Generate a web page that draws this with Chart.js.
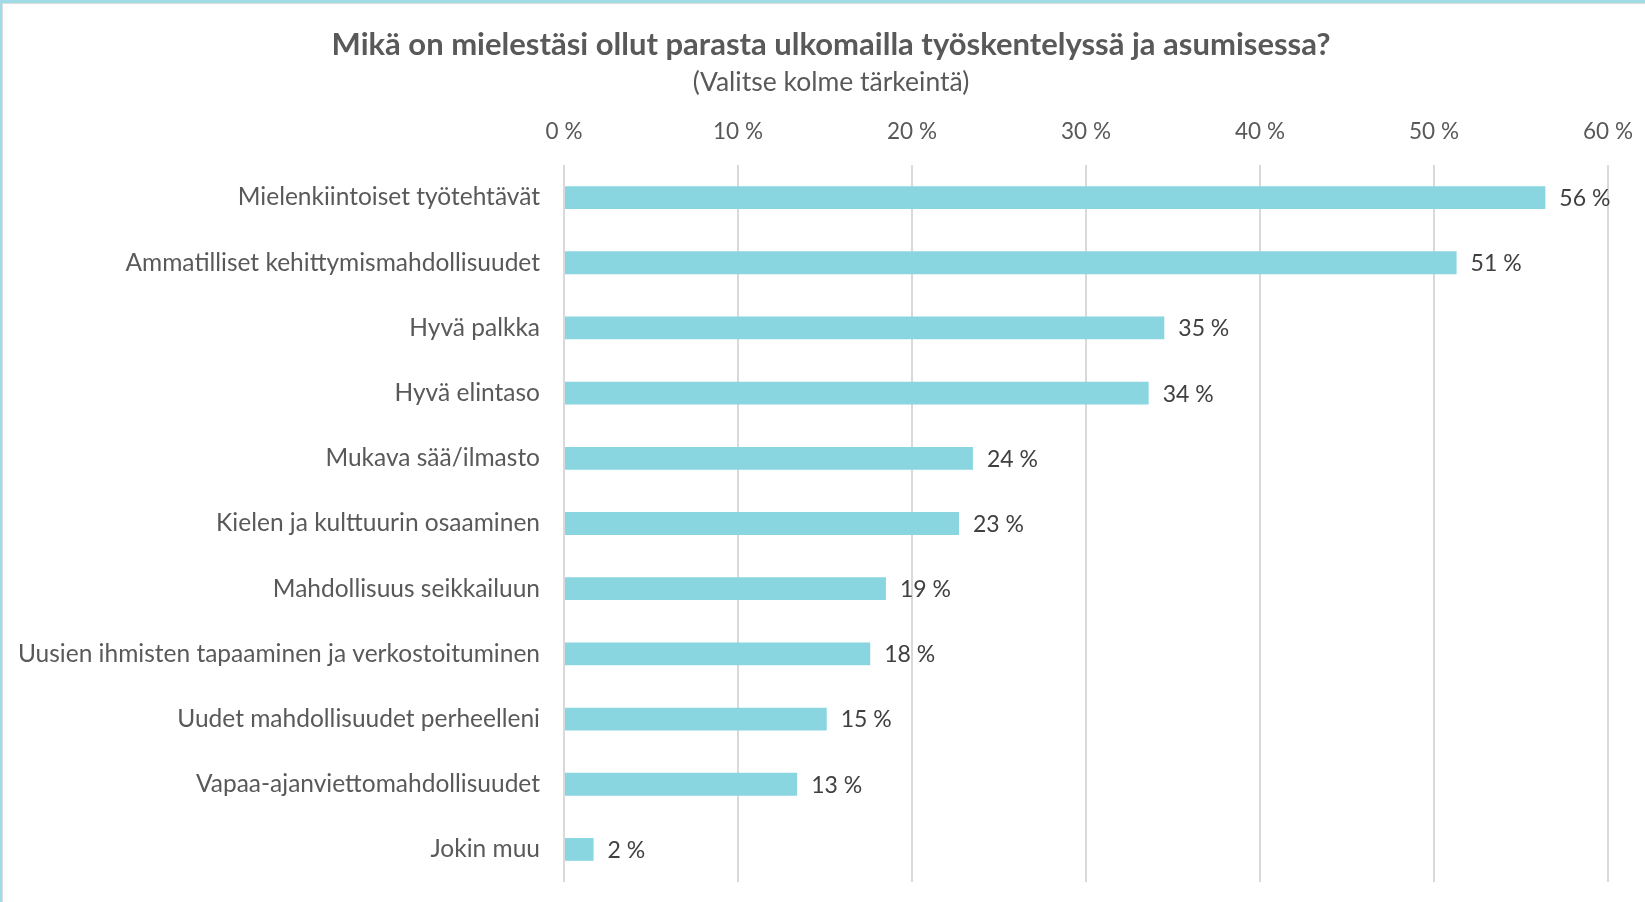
<!DOCTYPE html>
<html>
<head>
<meta charset="utf-8">
<script src="https://cdn.jsdelivr.net/npm/chart.js@4"></script>
<style>
  html, body { margin: 0; padding: 0; background: #fff; }
  #wrap { position: relative; width: 1645px; height: 902px; overflow: hidden; font-family: Lato, "Open Sans", sans-serif; color: #595959; }
  #chart { position: absolute; left: 0; top: 0; }
  .head { position: absolute; left: 0; width: 1662px; text-align: center; white-space: nowrap; }
  #title { top: 24px; font-size: 31px; font-weight: bold; line-height: 38px; }
  #subtitle { top: 65px; font-size: 26.5px; line-height: 32px; }
  #frame {
    position: absolute; left: 0; top: 0; width: 1645px; height: 902px;
    box-sizing: border-box; pointer-events: none;
    border-top: 3px solid #a0dce6; border-left: 2px solid #a0dce6;
  }
  #frame-inner {
    position: absolute; left: 0; top: 0; right: 0; bottom: 0;
    border-top: 1px solid #dcdcdc; border-left: 1px solid #dcdcdc;
  }
</style>
</head>
<body>
<div id="wrap">
  <canvas id="chart" width="1645" height="902"></canvas>
  <div class="head" id="title"></div>
  <div class="head" id="subtitle"></div>
  <div id="frame"><div id="frame-inner"></div></div>
</div>
<script>
const categories = [
  'Mielenkiintoiset työtehtävät',
  'Ammatilliset kehittymismahdollisuudet',
  'Hyvä palkka',
  'Hyvä elintaso',
  'Mukava sää/ilmasto',
  'Kielen ja kulttuurin osaaminen',
  'Mahdollisuus seikkailuun',
  'Uusien ihmisten tapaaminen ja verkostoituminen',
  'Uudet mahdollisuudet perheelleni',
  'Vapaa-ajanviettomahdollisuudet',
  'Jokin muu',
];
const values = [56.4, 51.3, 34.5, 33.6, 23.5, 22.7, 18.5, 17.6, 15.1, 13.4, 1.7];
const xTicks = [0, 10, 20, 30, 40, 50, 60];

const titleText = 'Mikä on mielestäsi ollut parasta ulkomailla työskentelyssä ja asumisessa?';
const subtitleText = '(Valitse kolme tärkeintä)';

document.getElementById('title').textContent = titleText;
document.getElementById('subtitle').textContent = subtitleText;

const FONT = 'Lato, "Open Sans", sans-serif';
const TEXT = '#595959';

// value labels at the end of each bar
const barLabels = {
  id: 'barLabels',
  afterDatasetsDraw(chart) {
    const ctx = chart.ctx;
    const meta = chart.getDatasetMeta(0);
    ctx.save();
    ctx.font = '23px ' + FONT;
    ctx.fillStyle = '#404040';
    ctx.textAlign = 'left';
    ctx.textBaseline = 'middle';
    meta.data.forEach((bar, i) => {
      ctx.fillText(Math.round(values[i]) + ' %', bar.x + 14, bar.y + 1);
    });
    ctx.restore();
  }
};

new Chart(document.getElementById('chart'), {
  type: 'bar',
  data: {
    labels: categories,
    datasets: [{
      data: values,
      backgroundColor: '#8ad6e0',
      borderWidth: 0,
      categoryPercentage: 1,
      barPercentage: 0.35,
    }],
  },
  options: {
    indexAxis: 'y',
    responsive: false,
    animation: false,
    layout: { padding: { left: 0, right: 37, top: 104, bottom: 20 } },
    plugins: {
      legend: { display: false },
      tooltip: { enabled: false },
    },
    scales: {
      x: {
        position: 'top',
        min: 0,
        max: 60,
        afterBuildTicks: scale => { scale.ticks = xTicks.map(v => ({ value: v })); },
        afterFit: scale => {
          scale.height = 61;
          scale.paddingLeft = 0;
          scale.paddingRight = 0;
        },
        ticks: {
          color: TEXT,
          font: { family: FONT, size: 22.5 },
          padding: 20,
          callback: v => v + ' %',
        },
        grid: { color: '#d9d9d9', lineWidth: 2, drawTicks: false },
        border: { display: false },
      },
      y: {
        afterFit: scale => {
          scale.width = 564;
          scale.paddingTop = 0;
          scale.paddingBottom = 0;
        },
        ticks: {
          color: TEXT,
          font: { family: FONT, size: 24.5 },
          padding: 24,
        },
        grid: { display: false, drawTicks: false },
        border: { display: false },
      },
    },
  },
  plugins: [barLabels],
});
</script>
</body>
</html>
